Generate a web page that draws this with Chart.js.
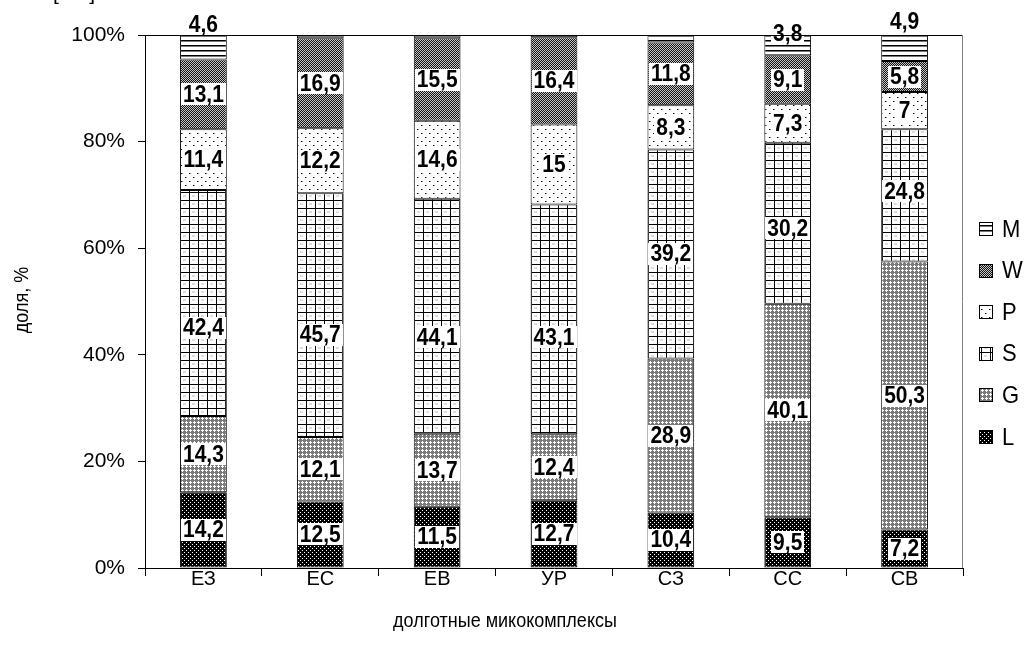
<!DOCTYPE html>
<html>
<head>
<meta charset="utf-8">
<script src="https://cdn.jsdelivr.net/npm/chart.js@4"></script>
<style>
  html, body { margin: 0; padding: 0; background: #fff; }
  #wrap { width: 1030px; height: 648px; position: relative; }
</style>
</head>
<body>
<div id="wrap"><canvas id="c" width="1030" height="648"></canvas></div>
<script>
// Longitudinal mycocomplexes and the share of each group, %
const categories = ['ЕЗ', 'ЕС', 'ЕВ', 'УР', 'СЗ', 'СС', 'СВ'];
const seriesNames = ['L', 'G', 'S', 'P', 'W', 'M'];
const valuesL = [14.2, 12.5, 11.5, 12.7, 10.4, 9.5, 7.2];
const valuesG = [14.3, 12.1, 13.7, 12.4, 28.9, 40.1, 50.3];
const valuesS = [42.4, 45.7, 44.1, 43.1, 39.2, 30.2, 24.8];
const valuesP = [11.4, 12.2, 14.6, 15, 8.3, 7.3, 7];
const valuesW = [13.1, 16.9, 15.5, 16.4, 11.8, 9.1, 5.8];
const valuesM = [4.6, 0.6, 0.6, 0.4, 1.4, 3.8, 4.9];
const yTicks = [0, 20, 40, 60, 80, 100];

// Hand-placed label offsets (px, + = down) for labels that were moved off-centre
const labelShift = {
  S: [25, 20, 21, 18, 0, 5, -4],
  M: [-23, 0, 0, 0, 0, -12, -26]
};

const FONT = '"Liberation Sans", Arial, sans-serif';

// ---- monochrome fill patterns ----
function makePattern(w, h, draw) {
  const t = document.createElement('canvas');
  t.width = w; t.height = h;
  const g = t.getContext('2d');
  draw(g);
  return document.getElementById('c').getContext('2d').createPattern(t, 'repeat');
}
function px(g, color, pts) {
  g.fillStyle = color;
  pts.forEach(p => g.fillRect(p[0], p[1], 1, 1));
}
const patterns = {
  // dense black with white dots
  L: makePattern(4, 4, g => {
    g.fillStyle = '#000'; g.fillRect(0, 0, 4, 4);
    px(g, '#fff', [[0, 0], [2, 2]]);
  }),
  // light grey with white crosses
  G: makePattern(4, 4, g => {
    g.fillStyle = '#7a7a7a'; g.fillRect(0, 0, 4, 4);
    px(g, '#fff', [[2, 1], [1, 2], [2, 2], [3, 2], [2, 3]]);
  }),
  // square grid
  S: makePattern(9, 8, g => {
    g.fillStyle = '#fff'; g.fillRect(0, 0, 9, 8);
    g.fillStyle = '#ddd'; g.fillRect(3, 3, 3, 2);
    g.fillStyle = '#000';
    g.fillRect(0, 0, 9, 1);
    g.fillRect(0, 0, 1, 8);
  }),
  // sparse dots
  P: makePattern(8, 8, g => {
    g.fillStyle = '#fff'; g.fillRect(0, 0, 8, 8);
    px(g, '#000', [[1, 1], [5, 5]]);
    px(g, '#888', [[2, 1], [6, 5]]);
  }),
  // dark grey checker
  W: makePattern(2, 2, g => {
    g.fillStyle = '#111'; g.fillRect(0, 0, 2, 2);
    px(g, '#c8c8c8', [[0, 0], [1, 1]]);
  }),
  // horizontal lines
  M: makePattern(1, 5, g => {
    g.fillStyle = '#fff'; g.fillRect(0, 0, 1, 5);
    g.fillStyle = '#000'; g.fillRect(0, 0, 1, 1);
    g.fillStyle = '#777'; g.fillRect(0, 1, 1, 1);
  })
};

const seriesValues = { L: valuesL, G: valuesG, S: valuesS, P: valuesP, W: valuesW, M: valuesM };

const datasets = seriesNames.map(name => ({
  label: name,
  data: seriesValues[name],
  backgroundColor: patterns[name],
  borderColor: '#000',
  borderWidth: 1,
  borderSkipped: false,
  barPercentage: 0.4,
  categoryPercentage: 1.0
}));

const fmt = v => String(v).replace('.', ',');

// text drawn slightly taller than wide
function tallText(ctx, txt, x, y, sy) {
  ctx.save();
  ctx.translate(x, y);
  ctx.scale(1, sy);
  ctx.fillText(txt, 0, 0);
  ctx.restore();
}

// Value labels on white boxes
const valueLabels = {
  id: 'valueLabels',
  afterDatasetsDraw(chart) {
    const ctx = chart.ctx;
    ctx.save();
    ctx.font = 'bold 21px ' + FONT;
    ctx.textAlign = 'center';
    ctx.textBaseline = 'middle';
    chart.data.datasets.forEach((ds, di) => {
      const meta = chart.getDatasetMeta(di);
      const shifts = labelShift[ds.label];
      meta.data.forEach((bar, i) => {
        const v = ds.data[i];
        if (v < 2) return;
        const txt = fmt(v);
        const cy = (bar.y + bar.base) / 2 + (shifts ? shifts[i] : 0);
        const w = ctx.measureText(txt).width + 4;
        const h = 22;
        ctx.fillStyle = '#fff';
        ctx.fillRect(Math.round(bar.x - w / 2), Math.round(cy - h / 2), Math.round(w), h);
        ctx.fillStyle = '#000';
        tallText(ctx, txt, bar.x, cy + 1, 1.1);
      });
    });
    ctx.restore();
  }
};

// Plot frame, axis titles and legend
const decorations = {
  id: 'decorations',
  afterDraw(chart) {
    const ctx = chart.ctx;
    const a = chart.chartArea;
    ctx.save();
    ctx.strokeStyle = '#000';
    ctx.lineWidth = 1;
    ctx.beginPath();
    ctx.moveTo(a.left, a.top + 0.5);
    ctx.lineTo(a.right, a.top + 0.5);
    ctx.stroke();
    ctx.strokeStyle = '#808080';
    ctx.beginPath();
    ctx.moveTo(a.right - 0.5, a.top);
    ctx.lineTo(a.right - 0.5, a.bottom);
    ctx.stroke();

    ctx.fillStyle = '#000';
    // clipped reference mark at the very top
    ctx.font = '21px ' + FONT;
    ctx.textAlign = 'left';
    ctx.textBaseline = 'alphabetic';
    ctx.fillText('[ % ]', 53, 0);

    // axis titles
    ctx.font = '18px ' + FONT;
    ctx.textAlign = 'center';
    ctx.textBaseline = 'middle';
    tallText(ctx, 'долготные микокомплексы', 505, 621, 1.15);
    ctx.save();
    ctx.translate(22, 300);
    ctx.rotate(-Math.PI / 2);
    ctx.scale(1, 1.15);
    ctx.fillText('доля, %', 0, 0);
    ctx.restore();

    // legend, top entry = top of stack
    const order = seriesNames.slice().reverse();
    ctx.font = '22px ' + FONT;
    ctx.textAlign = 'left';
    order.forEach((name, k) => {
      const cy = 229 + k * 41.6;
      const sx = 979, sy = Math.round(cy - 7);
      ctx.fillStyle = patterns[name];
      ctx.fillRect(sx, sy, 14, 14);
      ctx.strokeStyle = '#000';
      ctx.strokeRect(sx + 0.5, sy + 0.5, 13, 13);
      ctx.fillStyle = '#000';
      tallText(ctx, name, 1002, cy + 1, 1.1);
    });
    ctx.restore();
  }
};

new Chart(document.getElementById('c'), {
  type: 'bar',
  data: { labels: categories, datasets },
  options: {
    responsive: false,
    animation: false,
    devicePixelRatio: 1,
    layout: { padding: { top: 35, right: 67, left: 0, bottom: 0 } },
    plugins: {
      legend: { display: false },
      tooltip: { enabled: false },
      title: { display: false }
    },
    scales: {
      x: {
        stacked: true,
        grid: { display: true, drawOnChartArea: false, drawTicks: true, tickLength: 8, color: '#000', offset: true },
        border: { display: true, color: '#000', width: 1 },
        ticks: { color: '#000', font: { family: FONT, size: 20 }, padding: -9 },
        afterFit: s => { s.height = 80; }
      },
      y: {
        stacked: true,
        min: 0,
        max: 100,
        afterBuildTicks: s => { s.ticks = yTicks.map(v => ({ value: v })); },
        grid: { display: true, drawOnChartArea: false, drawTicks: true, tickLength: 7, color: '#000' },
        border: { display: true, color: '#000', width: 1 },
        ticks: { color: '#000', font: { family: FONT, size: 21 }, padding: 13, callback: v => v + '%' },
        afterFit: s => { s.width = 145; }
      }
    }
  },
  plugins: [valueLabels, decorations]
});
</script>
</body>
</html>
